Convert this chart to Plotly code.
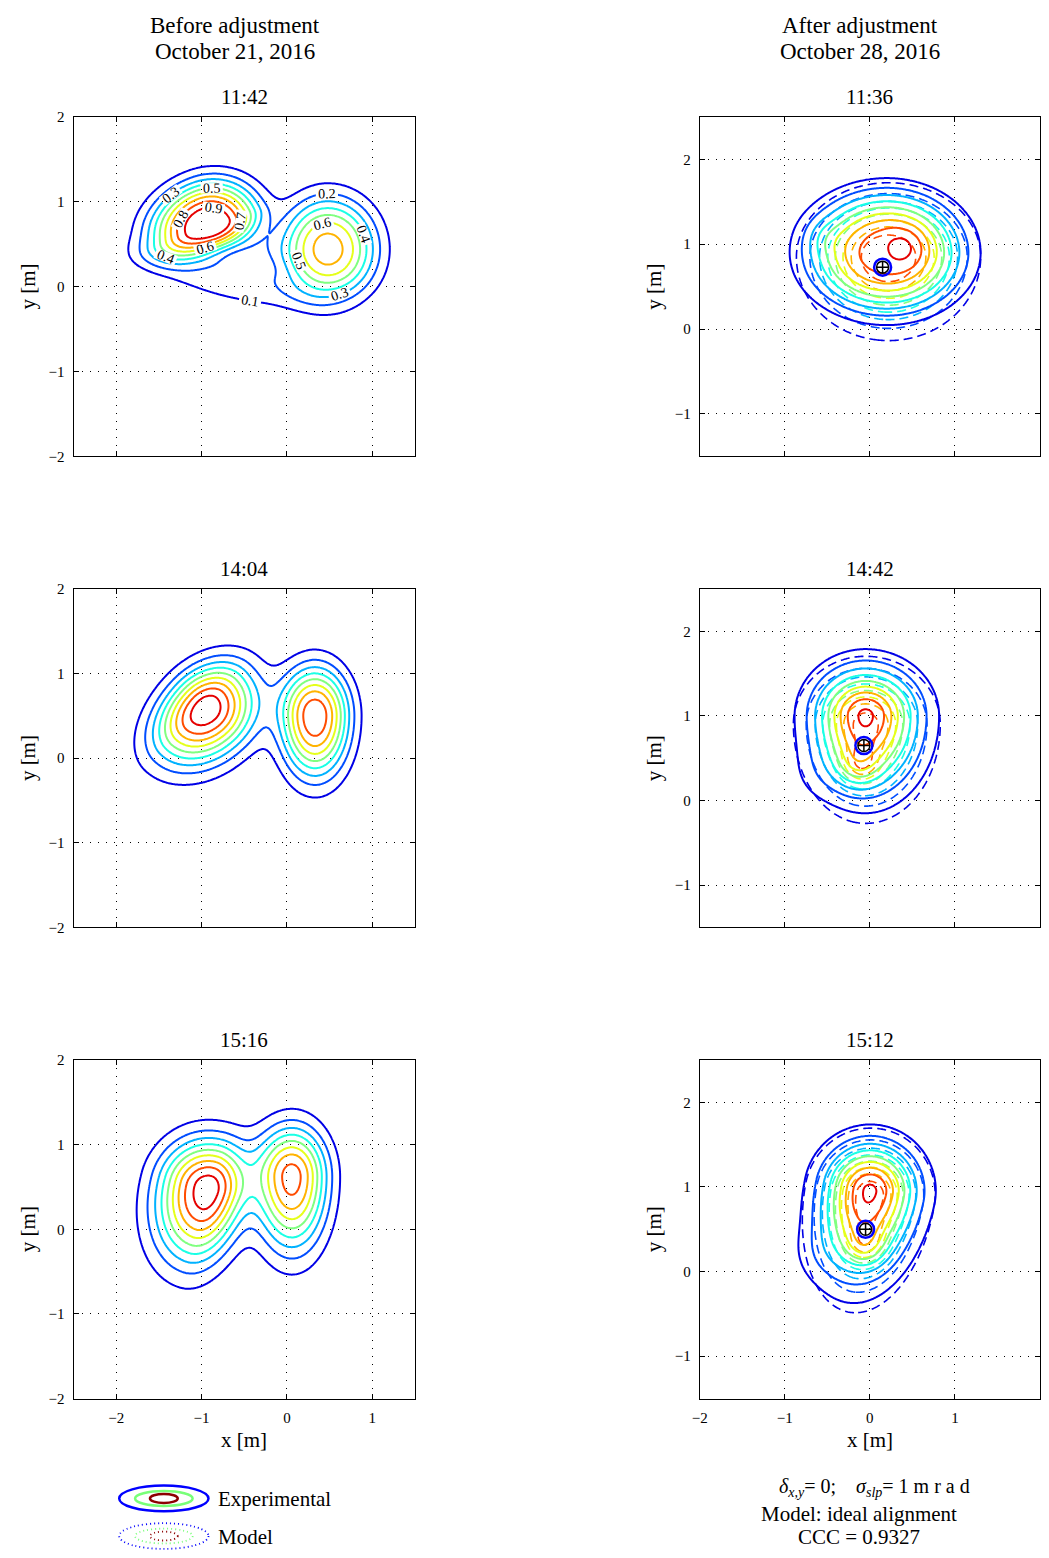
import numpy as np
import plotly.graph_objects as go

# page is shown with the browser's default 8px body margin
OFF = 8
W, H = 1049 - 2 * OFF, 1558 - 2 * OFF
FONT = "Liberation Serif"

# ---------------- data ----------------
HEADERS_BEFORE = ["Before adjustment", "October 21, 2016"]
HEADERS_AFTER = ["After adjustment", "October 28, 2016"]
TIMES_BEFORE = ["11:42", "14:04", "15:16"]
TIMES_AFTER = ["11:36", "14:42", "15:12"]

LEVEL_START, LEVEL_END, LEVEL_STEP = 0.1, 0.9, 0.1
LEVELS = [0.1, 0.2, 0.3, 0.4, 0.5, 0.6, 0.7, 0.8, 0.9]

X_RANGE_BEFORE = [-2.5, 1.5]
Y_RANGE_BEFORE = [-2.0, 2.0]
X_RANGE_AFTER = [-2.0, 2.0]
Y_RANGE_AFTER = [-1.5, 2.5]
X_TICKS_BEFORE = [-2, -1, 0, 1]
Y_TICKS_BEFORE = [-2, -1, 0, 1, 2]
X_TICKS_AFTER = [-2, -1, 0, 1, 2]
Y_TICKS_AFTER = [-1, 0, 1, 2]

# flux-map lobes:
# (amplitude, x0, y0, major+, major-, minor+, minor-, angle_deg, shape_exponent)
BLOBS_1142 = [
    (1.00, -0.92, 0.72, 0.58, 0.67, 0.50, 0.30, 20, 2.6),
    (0.74, 0.48, 0.44, 0.59, 0.57, 0.52, 0.55, 90, 2.5),
    (0.16, -0.75, 0.10, 1.00, 1.00, 0.25, 0.25, -15, 3.0),
    (0.13, -0.38, 0.45, 0.35, 0.35, 0.30, 0.30, 0, 2.0),
]
BLOBS_1404 = [
    (0.97, -0.95, 0.58, 0.60, 0.70, 0.42, 0.52, 45, 2.2),
    (0.87, 0.33, 0.50, 0.56, 0.69, 0.39, 0.39, 90, 2.3),
]
BLOBS_1516 = [
    (0.96, -0.93, 0.47, 0.57, 0.83, 0.55, 0.43, 75, 2.2),
    (0.84, 0.06, 0.62, 0.57, 0.82, 0.41, 0.40, 90, 2.2),
]
EXP_1136 = [
    (0.85, 0.20, 0.90, 0.84, 0.87, 0.67, 0.65, 0, 2.8),
    (0.10, 0.42, 0.98, 0.25, 0.25, 0.25, 0.25, 0, 2.0),
    (0.06, -0.55, 1.10, 0.20, 0.20, 0.20, 0.20, 0, 2.0),
]
MODEL_1136 = [
    (0.90, 0.22, 0.85, 0.78, 0.78, 0.63, 0.71, 0, 2.4),
]
EXP_1442 = [
    (0.92, -0.05, 1.00, 0.53, 0.77, 0.56, 0.58, 90, 2.0),
    (0.15, -0.15, 0.40, 0.25, 0.25, 0.25, 0.25, 0, 2.0),
    (0.05, -0.62, 0.30, 0.32, 0.32, 0.32, 0.32, 0, 2.0),
]
MODEL_1442 = [
    (0.85, -0.05, 0.90, 0.55, 0.80, 0.58, 0.60, 90, 2.0),
    (0.25, -0.10, 0.40, 0.22, 0.22, 0.22, 0.22, 0, 2.0),
]
EXP_1512 = [
    (0.92, 0.00, 0.95, 0.53, 0.90, 0.52, 0.52, 78, 2.0),
    (0.15, -0.05, 0.30, 0.22, 0.22, 0.22, 0.22, 0, 2.0),
    (0.05, -0.62, 0.20, 0.32, 0.32, 0.32, 0.32, 0, 2.0),
]
MODEL_1512 = [
    (0.88, 0.00, 0.90, 0.54, 0.95, 0.52, 0.52, 80, 2.0),
    (0.20, -0.05, 0.32, 0.22, 0.22, 0.22, 0.22, 0, 2.0),
]

CENTROID_X = [0.15, -0.07, -0.05]
CENTROID_Y = [0.73, 0.65, 0.50]

PARAM_TEXT = ("<i>δ</i><sub><i>x,y</i></sub>= 0;\u00a0\u00a0\u00a0 "
              "<i>σ</i><sub><i>slp</i></sub>= 1 m r a d")
MODEL_TEXT = "Model: ideal alignment"
CCC_TEXT = "CCC = 0.9327"
LEGEND_LABELS = ["Experimental", "Model"]


def jet(v):
    r = min(max(1.5 - abs(4 * v - 3), 0), 1)
    g = min(max(1.5 - abs(4 * v - 2), 0), 1)
    b = min(max(1.5 - abs(4 * v - 1), 0), 1)
    return f"rgb({round(255 * r)},{round(255 * g)},{round(255 * b)})"


# plotly maps the first contour level to 0 and the last to 1
LINE_SCALE = [[(lv - LEVELS[0]) / (LEVELS[-1] - LEVELS[0]), jet(lv)] for lv in LEVELS]


def field(blobs, xs, ys):
    X, Y = np.meshgrid(xs, ys)
    Z = np.zeros_like(X)
    for amp, x0, y0, ap, an, bp, bn, ang, p in blobs:
        t = np.radians(ang)
        u = (X - x0) * np.cos(t) + (Y - y0) * np.sin(t)
        v = -(X - x0) * np.sin(t) + (Y - y0) * np.cos(t)
        su = np.where(u >= 0, ap, an)
        sv = np.where(v >= 0, bp, bn)
        r2 = (u / su) ** 2 + (v / sv) ** 2
        Z += amp * np.exp(-r2 ** (p / 2.0))
    return np.clip(Z, 0, None)


def px(x):
    return (x - OFF) / W


def py(y):
    return 1 - (y - OFF) / H


# ---------------- layout geometry (reference pixels) ----------------
COL_X = [(66, 410), (697, 1040)]
ROW_Y = [(110, 453), (587, 929), (1063, 1405)]
TITLE_Y = [90, 567, 1043]

fig = go.Figure()
layout = dict(width=W, height=H, autosize=False,
              margin=dict(l=0, r=0, t=0, b=0),
              paper_bgcolor="white", plot_bgcolor="white",
              showlegend=False, font=dict(family=FONT, color="black"))

annotations = []
shapes = []

panels = [(r, c) for r in range(3) for c in range(2)]

for i, (r, c) in enumerate(panels):
    n = i + 1
    xa = "x" if n == 1 else f"x{n}"
    ya = "y" if n == 1 else f"y{n}"
    before = (c == 0)
    xr = X_RANGE_BEFORE if before else X_RANGE_AFTER
    yr = Y_RANGE_BEFORE if before else Y_RANGE_AFTER
    xt = X_TICKS_BEFORE if before else X_TICKS_AFTER
    yt = Y_TICKS_BEFORE if before else Y_TICKS_AFTER
    x0p, x1p = COL_X[c]
    y0p, y1p = ROW_Y[r]
    common = dict(showline=True, linecolor="black", linewidth=1, mirror="ticks",
                  ticks="inside", ticklen=5, tickcolor="black", tickwidth=1,
                  showgrid=True, gridcolor="black", gridwidth=1, griddash="1px,7px",
                  zeroline=False, fixedrange=True, ticklabelstandoff=5,
                  tickfont=dict(family=FONT, size=15, color="black"))
    layout["xaxis" if n == 1 else f"xaxis{n}"] = dict(
        common, domain=[px(x0p), px(x1p)], range=xr, tickvals=xt,
        showticklabels=(r == 2), anchor=ya)
    layout["yaxis" if n == 1 else f"yaxis{n}"] = dict(
        common, domain=[py(y1p), py(y0p)], range=yr, tickvals=yt, anchor=xa)

    xs = np.linspace(xr[0], xr[1], 281)
    ys = np.linspace(yr[0], yr[1], 281)
    contours = dict(coloring="lines", start=LEVEL_START, end=LEVEL_END + 1e-4,
                    size=LEVEL_STEP)
    if before:
        blobs = [BLOBS_1142, BLOBS_1404, BLOBS_1516][r]
        cdict = dict(contours)
        if r == 0:
            cdict.update(showlabels=True, labelformat=".1f",
                         labelfont=dict(family=FONT, size=14, color="black"))
        fig.add_trace(go.Contour(x=xs, y=ys, z=field(blobs, xs, ys), xaxis=xa, yaxis=ya,
                                 colorscale=LINE_SCALE, showscale=False,
                                 contours=cdict, line=dict(width=2), hoverinfo="skip"))
        title = TIMES_BEFORE[r]
    else:
        exp_b = [EXP_1136, EXP_1442, EXP_1512][r]
        mod_b = [MODEL_1136, MODEL_1442, MODEL_1512][r]
        fig.add_trace(go.Contour(x=xs, y=ys, z=field(mod_b, xs, ys), xaxis=xa, yaxis=ya,
                                 colorscale=LINE_SCALE, showscale=False,
                                 contours=contours, line=dict(width=1.6, dash="9px,5px"),
                                 hoverinfo="skip"))
        fig.add_trace(go.Contour(x=xs, y=ys, z=field(exp_b, xs, ys), xaxis=xa, yaxis=ya,
                                 colorscale=LINE_SCALE, showscale=False,
                                 contours=contours, line=dict(width=2),
                                 hoverinfo="skip"))
        fig.add_trace(go.Scatter(x=[CENTROID_X[r]], y=[CENTROID_Y[r]], xaxis=xa, yaxis=ya,
                                 mode="markers", hoverinfo="skip",
                                 marker=dict(symbol="circle-open", size=17, color="rgb(0,0,255)",
                                             line=dict(width=2.5))))
        fig.add_trace(go.Scatter(x=[CENTROID_X[r]], y=[CENTROID_Y[r]], xaxis=xa, yaxis=ya,
                                 mode="markers", hoverinfo="skip",
                                 marker=dict(symbol="circle-cross-open", size=12, color="black",
                                             line=dict(width=1.5))))
        title = TIMES_AFTER[r]

    cx = (x0p + x1p) / 2
    annotations.append(dict(x=px(cx), y=py(TITLE_Y[r]), xref="paper", yref="paper",
                            text=title, showarrow=False, xanchor="center",
                            yanchor="middle", font=dict(size=21, family=FONT)))
    annotations.append(dict(x=px(20 if before else 651), y=py((y0p + y1p) / 2),
                            xref="paper", yref="paper", text="y [m]", textangle=-90,
                            showarrow=False, xanchor="center", yanchor="middle",
                            font=dict(size=21, family=FONT)))
    if r == 2:
        annotations.append(dict(x=px(cx), y=py(1447), xref="paper", yref="paper",
                                text="x [m]", showarrow=False, xanchor="center",
                                yanchor="middle", font=dict(size=21, family=FONT)))

# column headers
for k, txt in enumerate(HEADERS_BEFORE):
    annotations.append(dict(x=px(229), y=py(18 + 26 * k), xref="paper", yref="paper",
                            text=txt, showarrow=False, xanchor="center", yanchor="middle",
                            font=dict(size=23, family=FONT)))
for k, txt in enumerate(HEADERS_AFTER):
    annotations.append(dict(x=px(859), y=py(18 + 26 * k), xref="paper", yref="paper",
                            text=txt, showarrow=False, xanchor="center", yanchor="middle",
                            font=dict(size=23, family=FONT)))

# bottom-right text
annotations.append(dict(x=px(873), y=py(1495), xref="paper", yref="paper", text=PARAM_TEXT,
                        showarrow=False, xanchor="center", yanchor="middle",
                        font=dict(size=20, family=FONT)))
annotations.append(dict(x=px(858), y=py(1522), xref="paper", yref="paper", text=MODEL_TEXT,
                        showarrow=False, xanchor="center", yanchor="middle",
                        font=dict(size=21, family=FONT)))
annotations.append(dict(x=px(858), y=py(1545), xref="paper", yref="paper", text=CCC_TEXT,
                        showarrow=False, xanchor="center", yanchor="middle",
                        font=dict(size=21, family=FONT)))

# legend (drawn)
LEG_Y = [1506, 1544]
ELLIPSES = [(90, 26, "rgb(0,0,255)"), (58, 15, "rgb(120,255,120)"), (28, 9, "rgb(140,0,0)")]
for k, label in enumerate(LEGEND_LABELS):
    cy = LEG_Y[k]
    for w_, h_, col in ELLIPSES:
        shapes.append(dict(type="circle", xref="paper", yref="paper",
                           x0=px(157 - w_ / 2), x1=px(157 + w_ / 2),
                           y0=py(cy + h_ / 2), y1=py(cy - h_ / 2),
                           line=dict(color=col, width=2.5 if k == 0 else 1.8,
                                     dash="solid" if k == 0 else "1px,3px")))
    annotations.append(dict(x=px(210), y=py(cy + 1), xref="paper", yref="paper", text=label,
                            showarrow=False, xanchor="left", yanchor="middle",
                            font=dict(size=21, family=FONT)))

layout["annotations"] = annotations
layout["shapes"] = shapes
fig.update_layout(**layout)

fig.write_html("out.html", config={"displayModeBar": False})
